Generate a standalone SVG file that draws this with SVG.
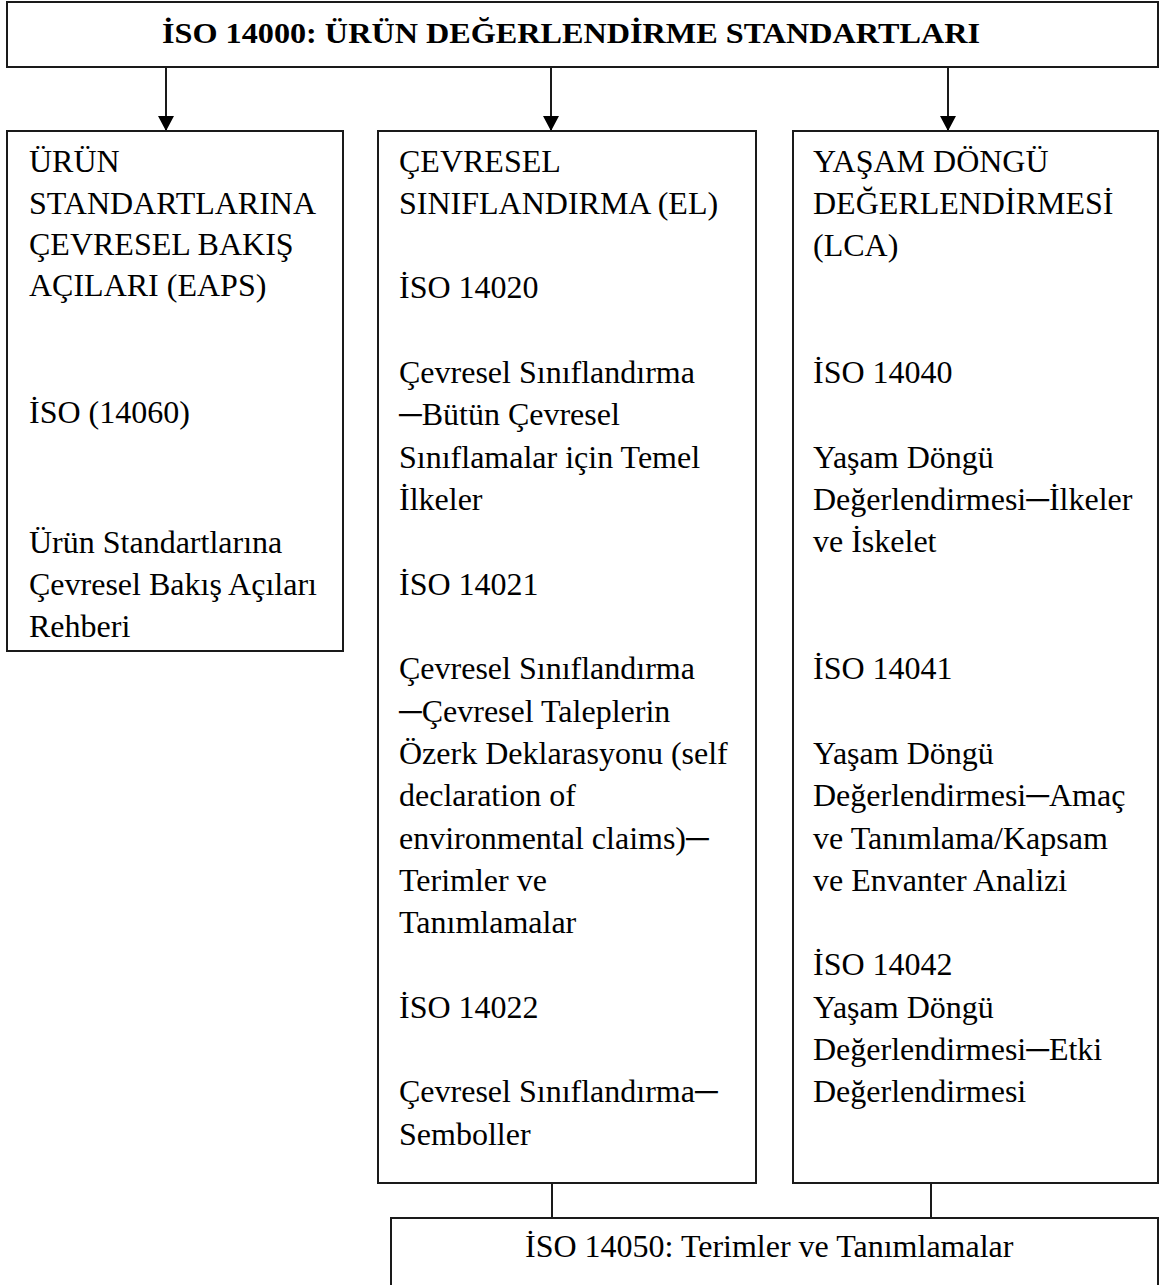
<svg xmlns="http://www.w3.org/2000/svg" width="1168" height="1285" viewBox="0 0 1168 1285">
  <style>
    .box { fill: #ffffff; stroke: #1a1a1a; stroke-width: 2; }
    .link { fill: none; stroke: #1a1a1a; stroke-width: 2; }
    .t { font-family: "Liberation Serif", "Times New Roman", serif; font-size: 32px; fill: #000; }
    .title { font-family: "Liberation Serif", "Times New Roman", serif; font-size: 30px; font-weight: bold; fill: #000; }
  </style>
  <defs>
    <marker id="arrow" markerUnits="userSpaceOnUse" markerWidth="16" markerHeight="16" refX="15" refY="8" orient="auto">
      <path d="M0,0 L15,8 L0,16 Z" fill="#000"/>
    </marker>
  </defs>

  <!-- Header -->
  <g id="node-header">
    <rect class="box" x="7" y="2" width="1151" height="65"/>
    <text class="title" x="162" y="43" textLength="818" lengthAdjust="spacingAndGlyphs">İSO 14000: ÜRÜN DEĞERLENDİRME STANDARTLARI</text>
  </g>

  <!-- Connectors -->
  <g id="connectors">
    <line class="link" x1="166" y1="67" x2="166" y2="131" marker-end="url(#arrow)"/>
    <line class="link" x1="551" y1="68" x2="551" y2="131" marker-end="url(#arrow)"/>
    <line class="link" x1="948" y1="68" x2="948" y2="131" marker-end="url(#arrow)"/>
    <line class="link" x1="552" y1="1183" x2="552" y2="1218"/>
    <line class="link" x1="931" y1="1183" x2="931" y2="1218"/>
  </g>

  <!-- Environmental aspects of product standards -->
  <g id="node-eaps">
    <rect class="box" x="7" y="131" width="336" height="520"/>
    <text class="t">
      <tspan x="29" y="172">ÜRÜN</tspan>
      <tspan x="29" y="214">STANDARTLARINA</tspan>
      <tspan x="29" y="255">ÇEVRESEL BAKIŞ</tspan>
      <tspan x="29" y="296">AÇILARI (EAPS)</tspan>
      <tspan x="29" y="423">İSO (14060)</tspan>
      <tspan x="29" y="553">Ürün Standartlarına</tspan>
      <tspan x="29" y="595">Çevresel Bakış Açıları</tspan>
      <tspan x="29" y="637">Rehberi</tspan>
    </text>
  </g>

  <!-- Environmental labelling -->
  <g id="node-el">
    <rect class="box" x="378" y="131" width="378" height="1052"/>
    <text class="t">
      <tspan x="399" y="172">ÇEVRESEL</tspan>
      <tspan x="399" y="214">SINIFLANDIRMA (EL)</tspan>
      <tspan x="399" y="298">İSO 14020</tspan>
      <tspan x="399" y="383">Çevresel Sınıflandırma</tspan>
      <tspan x="399" y="425">─Bütün Çevresel</tspan>
      <tspan x="399" y="468">Sınıflamalar için Temel</tspan>
      <tspan x="399" y="510">İlkeler</tspan>
      <tspan x="399" y="595">İSO 14021</tspan>
      <tspan x="399" y="679">Çevresel Sınıflandırma</tspan>
      <tspan x="399" y="722">─Çevresel Taleplerin</tspan>
      <tspan x="399" y="764">Özerk Deklarasyonu (self</tspan>
      <tspan x="399" y="806">declaration of</tspan>
      <tspan x="399" y="849">environmental claims)─</tspan>
      <tspan x="399" y="891">Terimler ve</tspan>
      <tspan x="399" y="933">Tanımlamalar</tspan>
      <tspan x="399" y="1018">İSO 14022</tspan>
      <tspan x="399" y="1102">Çevresel Sınıflandırma─</tspan>
      <tspan x="399" y="1145">Semboller</tspan>
    </text>
  </g>

  <!-- Life cycle assessment -->
  <g id="node-lca">
    <rect class="box" x="793" y="131" width="365" height="1052"/>
    <text class="t">
      <tspan x="813" y="172">YAŞAM DÖNGÜ</tspan>
      <tspan x="813" y="214">DEĞERLENDİRMESİ</tspan>
      <tspan x="813" y="256">(LCA)</tspan>
      <tspan x="813" y="383">İSO 14040</tspan>
      <tspan x="813" y="468">Yaşam Döngü</tspan>
      <tspan x="813" y="510">Değerlendirmesi─İlkeler</tspan>
      <tspan x="813" y="552">ve İskelet</tspan>
      <tspan x="813" y="679">İSO 14041</tspan>
      <tspan x="813" y="764">Yaşam Döngü</tspan>
      <tspan x="813" y="806">Değerlendirmesi─Amaç</tspan>
      <tspan x="813" y="849">ve Tanımlama/Kapsam</tspan>
      <tspan x="813" y="891">ve Envanter Analizi</tspan>
      <tspan x="813" y="975">İSO 14042</tspan>
      <tspan x="813" y="1018">Yaşam Döngü</tspan>
      <tspan x="813" y="1060">Değerlendirmesi─Etki</tspan>
      <tspan x="813" y="1102">Değerlendirmesi</tspan>
    </text>
  </g>

  <!-- Terms and definitions -->
  <g id="node-terms">
    <rect class="box" x="391" y="1218" width="767" height="90"/>
    <text class="t" x="525" y="1257">İSO 14050: Terimler ve Tanımlamalar</text>
  </g>
</svg>
